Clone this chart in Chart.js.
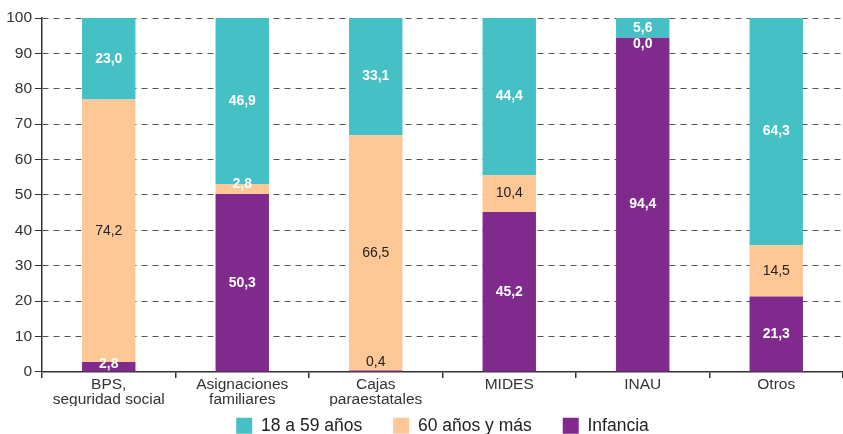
<!DOCTYPE html>
<html>
<head>
<meta charset="utf-8">
<script src="https://cdn.jsdelivr.net/npm/chart.js@4/dist/chart.umd.min.js"></script>
<style>
  html, body { margin: 0; padding: 0; background: #fff; }
  #wrap { width: 843px; height: 434px; }
</style>
</head>
<body>
<div id="wrap"><canvas id="reportChart"></canvas></div>
<script>
// datos del gráfico
var categories = [['BPS,', 'seguridad social'], ['Asignaciones', 'familiares'], ['Cajas', 'paraestatales'], 'MIDES', 'INAU', 'Otros'];
var infancia = [2.8, 50.3, 0.4, 45.2, 94.4, 21.3];
var mayores60 = [74.2, 2.8, 66.5, 10.4, 0.0, 14.5];
var adultos = [23.0, 46.9, 33.1, 44.4, 5.6, 64.3];
var yTicks = [0, 10, 20, 30, 40, 50, 60, 70, 80, 90, 100];

var fontFamily = '"Liberation Sans", Arial, sans-serif';

// color de las etiquetas por segmento
var labelColors = [
    ['#fff', '#fff', '#222', '#fff', '#fff', '#fff'],
    ['#222', '#fff', '#222', '#222', '#fff', '#222'],
    ['#fff', '#fff', '#fff', '#fff', '#fff', '#fff']
];
// desplazamiento vertical para segmentos chicos
var labelShift = {
    '0-0': -3,
    '0-2': -9,
    '1-1': -5,
    '1-4': 6
};

var valueLabels = {
    id: 'valueLabels',
    beforeInit: function (chart) {
        // leyenda más baja, sin robar tanto alto al gráfico
        var legend = chart.legend;
        var fit = legend.fit;
        legend.fit = function () {
            fit.call(this);
            this.height = 28;
        };
    },
    afterLayout: function (chart) {
        // leyenda centrada bajo el área del gráfico
        var legend = chart.legend;
        legend.top = 386;
        legend.bottom = chart.height;
        legend.left = chart.chartArea.left;
        legend.right = chart.width;
    },
    afterDatasetsDraw: function (chart) {
        var ctx = chart.ctx;
        ctx.save();
        ctx.textAlign = 'center';
        ctx.textBaseline = 'middle';
        chart.data.datasets.forEach(function (ds, di) {
            var meta = chart.getDatasetMeta(di);
            meta.data.forEach(function (bar, i) {
                var v = ds.data[i];
                var color = labelColors[di][i];
                ctx.fillStyle = color;
                ctx.font = (color == '#fff' ? 'bold ' : '') + '14px ' + fontFamily;
                var y = (bar.y + bar.base) / 2 + (labelShift[di + '-' + i] || 0);
                ctx.fillText(v.toFixed(1).replace('.', ','), bar.x, y);
            });
        });
        ctx.restore();
    }
};

var ctx = document.getElementById('reportChart').getContext('2d');
var myChart = new Chart(ctx, {
    type: 'bar',
    data: {
        labels: categories,
        datasets: [
            { label: 'Infancia', data: infancia, backgroundColor: '#7F2A8C' },
            { label: '60 años y más', data: mayores60, backgroundColor: '#FDC796' },
            { label: '18 a 59 años', data: adultos, backgroundColor: '#45C1C5' }
        ]
    },
    options: {
        responsive: true,
        maintainAspectRatio: false,
        animation: false,
        layout: { padding: { top: 18, right: 0, left: 0, bottom: 0 } },
        datasets: {
            bar: { categoryPercentage: 1, barPercentage: 0.4 }
        },
        scales: {
            x: {
                stacked: true,
                grid: { display: true, drawOnChartArea: false, offset: true, tickLength: 6, tickColor: '#333', lineWidth: 1.5 },
                border: { color: '#333', width: 1.5 },
                ticks: { color: '#333', font: { family: fontFamily, size: 15.5, lineHeight: 0.97 }, padding: -1, maxRotation: 0, autoSkip: false }
            },
            y: {
                stacked: true,
                min: 0,
                max: 100,
                afterBuildTicks: function (scale) {
                    scale.ticks = yTicks.map(function (v) { return { value: v }; });
                },
                afterFit: function (scale) { scale.width = 42; },
                grid: { color: '#555', tickColor: '#333', tickLength: 7, lineWidth: 1 },
                border: { color: '#333', width: 1.5, dash: [6, 5] },
                ticks: { color: '#333', font: { family: fontFamily, size: 15.5 }, padding: 3 }
            }
        },
        plugins: {
            legend: {
                position: 'bottom',
                reverse: true,
                labels: {
                    boxWidth: 16,
                    boxHeight: 16,
                    padding: 31,
                    color: '#222',
                    font: { family: fontFamily, size: 17.5 }
                }
            },
            tooltip: { enabled: false }
        }
    },
    plugins: [valueLabels]
});
</script>
</body>
</html>
